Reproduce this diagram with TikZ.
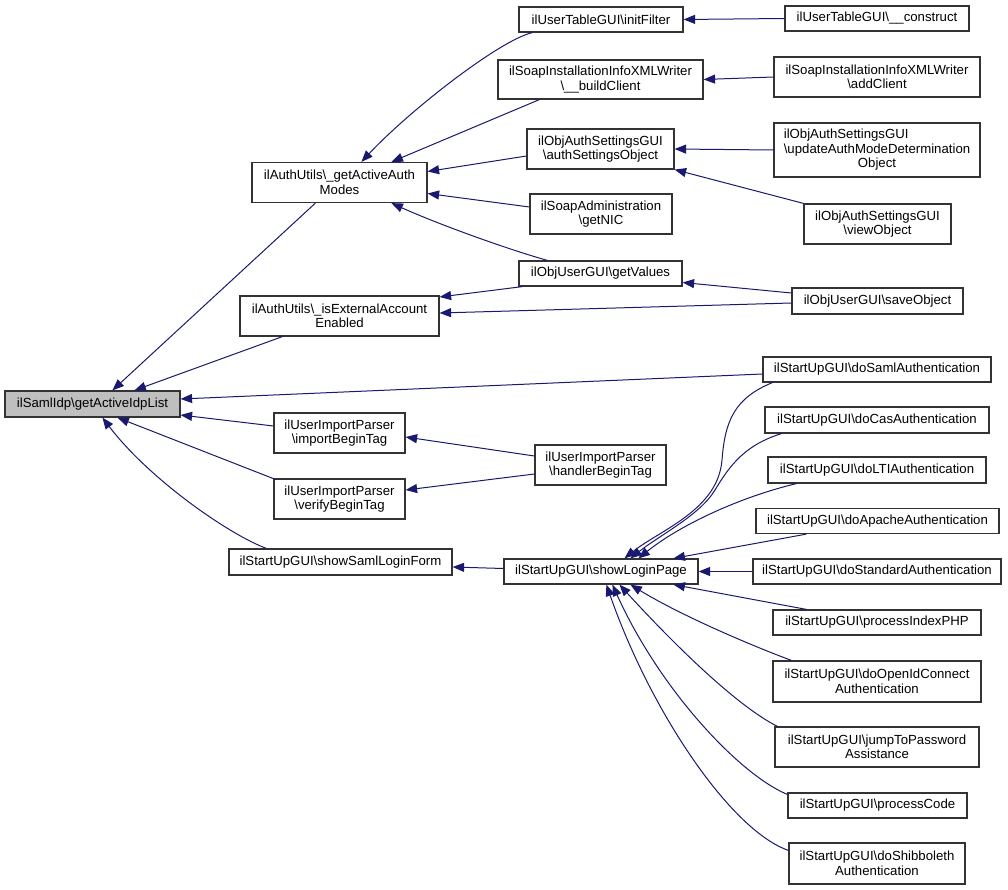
\documentclass[tikz,border=0pt]{standalone}
\usepackage{fontspec}
\setmainfont{Liberation Sans}
\usetikzlibrary{arrows.meta,calc}
\definecolor{edgeblue}{HTML}{191970}
\definecolor{boxline}{HTML}{333333}
\definecolor{mainfill}{HTML}{BFBFBF}
\newcommand{\bs}{\textbackslash}
\begin{document}
\begin{tikzpicture}[x=1pt,y=-1pt,
  box/.style={draw=boxline,line width=1.2pt,fill=white,inner sep=0pt,align=center,
    font=\fontsize{13.2}{14.5}\selectfont},
  edge/.style={draw=edgeblue,line width=1pt,-{Triangle[length=11.5pt,width=9pt]},fill=none},
]
\useasboundingbox (0,0) rectangle (1008,890);
% column 0
\node[box,fill=mainfill,minimum width=175,minimum height=26] (samlidp) at (92.5,404) {ilSamlIdp\bs getActiveIdpList};
% column 1
\node[box,minimum width=175,minimum height=40] (authmodes) at (339.5,182.5) {ilAuthUtils\bs\_getActiveAuth\\Modes};
\node[box,minimum width=199,minimum height=40] (isext) at (339.5,316) {ilAuthUtils\bs\_isExternalAccount\\Enabled};
\node[box,minimum width=131,minimum height=40] (importbt) at (339.5,433) {ilUserImportParser\\\bs importBeginTag};
\node[box,minimum width=131,minimum height=40] (verifybt) at (339.5,499) {ilUserImportParser\\\bs verifyBeginTag};
\node[box,minimum width=223,minimum height=26] (samlform) at (340.5,562) {ilStartUpGUI\bs showSamlLoginForm};
% column 2
\node[box,minimum width=164,minimum height=25] (initfilter) at (601,19.5) {ilUserTableGUI\bs initFilter};
\node[box,minimum width=205,minimum height=39] (buildclient) at (600.5,79.5) {ilSoapInstallationInfoXMLWriter\\\bs\_\_buildClient};
\node[box,minimum width=147,minimum height=40] (authsettings) at (600.5,149) {ilObjAuthSettingsGUI\\\bs authSettingsObject};
\node[box,minimum width=142,minimum height=40] (getnic) at (601,214) {ilSoapAdministration\\\bs getNIC};
\node[box,minimum width=163,minimum height=25] (getvalues) at (600.5,273.5) {ilObjUserGUI\bs getValues};
\node[box,minimum width=131,minimum height=40] (handlerbt) at (600.5,465) {ilUserImportParser\\\bs handlerBeginTag};
\node[box,minimum width=194,minimum height=25] (loginpage) at (601,571.5) {ilStartUpGUI\bs showLoginPage};
% column 3
\node[box,minimum width=184,minimum height=25] (construct) at (877,18.5) {ilUserTableGUI\bs\_\_construct};
\node[box,minimum width=206,minimum height=40] (addclient) at (877,77) {ilSoapInstallationInfoXMLWriter\\\bs addClient};
\node[box,minimum width=206,minimum height=54] (updateauth) at (877,150) {\rlap{ilObjAuthSettingsGUI}\hphantom{\bs updateAuthModeDetermination}\\\bs updateAuthModeDetermination\\Object};
\node[box,minimum width=147,minimum height=40] (viewobject) at (877.5,224) {ilObjAuthSettingsGUI\\\bs viewObject};
\node[box,minimum width=171,minimum height=26] (saveobject) at (877.5,301) {ilObjUserGUI\bs saveObject};
\node[box,minimum width=228,minimum height=25] (dosaml) at (877,369.5) {ilStartUpGUI\bs doSamlAuthentication};
\node[box,minimum width=224,minimum height=26] (docas) at (877,420) {ilStartUpGUI\bs doCasAuthentication};
\node[box,minimum width=218,minimum height=26] (dolti) at (877,470) {ilStartUpGUI\bs doLTIAuthentication};
\node[box,minimum width=243,minimum height=25] (doapache) at (877.5,521) {ilStartUpGUI\bs doApacheAuthentication};
\node[box,minimum width=248,minimum height=25] (dostandard) at (877,571.5) {ilStartUpGUI\bs doStandardAuthentication};
\node[box,minimum width=208,minimum height=25] (processindex) at (877,622.5) {ilStartUpGUI\bs processIndexPHP};
\node[box,minimum width=208,minimum height=41] (doopenid) at (877,681.5) {ilStartUpGUI\bs doOpenIdConnect\\Authentication};
\node[box,minimum width=204,minimum height=40] (jumpto) at (877,747) {ilStartUpGUI\bs jumpToPassword\\Assistance};
\node[box,minimum width=179,minimum height=25] (processcode) at (877.5,805.5) {ilStartUpGUI\bs processCode};
\node[box,minimum width=176,minimum height=41] (doshib) at (877,863.5) {ilStartUpGUI\bs doShibboleth\\Authentication};

% edges to samlidp
\draw[edge] ($(authmodes.south west)+(64,0)$) -- ($(samlidp.north west)+(108,0)$);
\draw[edge] ($(isext.south west)+(43,0)$) -- ($(samlidp.north west)+(130,0)$);
\draw[edge] ($(dosaml.west)+(0,4.5)$) -- ($(samlidp.east)+(0,-5)$);
\draw[edge] ($(importbt.west)+(0,-7)$) -- ($(samlidp.east)+(0,11)$);
\draw[edge] ($(verifybt.north west)+(2,1)$) -- ($(samlidp.south west)+(113,0)$);
\draw[edge] ($(samlform.north west)+(38,0)$) .. controls (230,535) and (150,480) .. ($(samlidp.south west)+(98,0)$);
% edges to authmodes
\draw[edge] ($(initfilter.south west)+(14,0)$) .. controls (500,40) and (410,110) .. ($(authmodes.north west)+(110,0)$);
\draw[edge] ($(buildclient.south west)+(42,0)$) -- ($(authmodes.north west)+(140,0)$);
\draw[edge] ($(authsettings.west)+(0,7)$) -- ($(authmodes.east)+(0,-11)$);
\draw[edge] ($(getnic.west)+(0,-7)$) -- ($(authmodes.east)+(0,11)$);
\draw[edge] ($(getvalues.north west)+(29,0)$) .. controls (510,250) and (440,225) .. ($(authmodes.south west)+(140,0)$);
% edges to isext
\draw[edge] ($(getvalues.south west)+(4,0)$) -- ($(isext.east)+(0,-19)$);
\draw[edge] ($(saveobject.west)+(0,2)$) -- ($(isext.east)+(0,-3)$);
% other
\draw[edge] ($(saveobject.west)+(0,-8)$) -- ($(getvalues.east)+(0,9)$);
\draw[edge] (construct.west) -- (initfilter.east);
\draw[edge] (addclient.west) -- (buildclient.east);
\draw[edge] (updateauth.west) -- (authsettings.east);
\draw[edge] (viewobject.north west) -- (authsettings.south east);
\draw[edge] ($(handlerbt.west)+(0,-9)$) -- ($(importbt.east)+(0,4)$);
\draw[edge] ($(handlerbt.west)+(0,9)$) -- ($(verifybt.east)+(0,-9)$);
\draw[edge] ($(loginpage.west)+(0,-3)$) -- ($(samlform.east)+(0,5)$);
% edges to loginpage
\draw[edge] ($(dosaml.south west)+(10,0)$) .. controls (735,398) and (725,420) .. (722,460) .. controls (718,510) and (660,530) .. ($(loginpage.north west)+(121,0)$);
\draw[edge] ($(docas.south west)+(17,0)$) .. controls (745,445) and (730,465) .. (715,490) .. controls (700,515) and (660,535) .. ($(loginpage.north west)+(127,0)$);
\draw[edge] ($(dolti.south west)+(29,0)$) .. controls (740,497) and (680,525) .. ($(loginpage.north west)+(135,0)$);
\draw[edge] ($(doapache.south west)+(51,0)$) -- ($(loginpage.north west)+(170,0)$);
\draw[edge] (dostandard.west) -- (loginpage.east);
\draw[edge] ($(processindex.north west)+(34,0)$) -- ($(loginpage.south west)+(170,0)$);
\draw[edge] ($(doopenid.north west)+(19,0)$) .. controls (750,645) and (680,615) .. ($(loginpage.south west)+(127,0)$);
\draw[edge] ($(jumpto.north west)+(3,0)$) .. controls (735,705) and (670,640) .. ($(loginpage.south west)+(116,0)$);
\draw[edge] ($(processcode.north west)+(0,2)$) .. controls (740,775) and (660,690) .. ($(loginpage.south west)+(109,0)$);
\draw[edge] ($(doshib.north west)+(0,8)$) .. controls (730,830) and (650,710) .. ($(loginpage.south west)+(103,0)$);
\end{tikzpicture}
\end{document}
